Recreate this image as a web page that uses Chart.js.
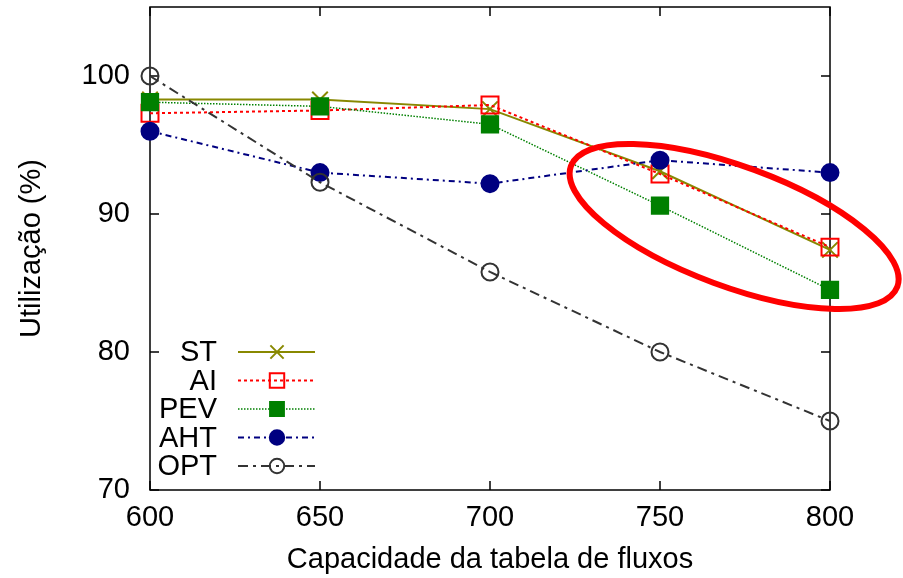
<!DOCTYPE html>
<html>
<head>
<meta charset="utf-8">
<script src="https://cdn.jsdelivr.net/npm/chart.js@4/dist/chart.umd.min.js"></script>
<style>
  body { margin: 0; background: #fff; }
</style>
</head>
<body>
<canvas id="chart" width="903" height="578"></canvas>
<script>
let capacities = [600, 650, 700, 750, 800];
let seriesNames = ["ST", "AI", "PEV", "AHT", "OPT"];
let st = [98.3, 98.3, 97.6, 93.1, 87.4];
let ai = [97.3, 97.5, 97.9, 92.9, 87.6];
let pev = [98.1, 97.8, 96.5, 90.6, 84.5];
let aht = [96.0, 93.0, 92.2, 93.9, 93.0];
let opt = [100, 92.3, 85.8, 80.0, 75.0];
let xTicks = [600, 650, 700, 750, 800];
let yTicks = [70, 80, 90, 100];

let font = "'Liberation Sans', Arial, Helvetica, sans-serif";
let fontSize = 29;

function points(values) {
    return capacities.map((c, i) => ({ x: c, y: values[i] }));
}

let styles = [
    { color: "#888800", dash: [], width: 2, point: "crossRot", radius: 11, fill: false },
    { color: "#ff0000", dash: [3, 3], width: 2, point: "rect", radius: 12, fill: false },
    { color: "#008000", dash: [1.5, 1.5], width: 1.5, point: "rect", radius: 11.5, fill: true },
    { color: "#000080", dash: [6, 4, 2, 4], width: 2, point: "circle", radius: 8.5, fill: true },
    { color: "#333333", dash: [10, 5, 3, 5], width: 2, point: "circle", radius: 8.5, fill: false }
];
let values = [st, ai, pev, aht, opt];

let datasets = seriesNames.map((name, i) => {
    let s = styles[i];
    return {
        label: name,
        data: points(values[i]),
        borderColor: s.color,
        borderWidth: s.width,
        borderDash: s.dash,
        pointStyle: s.point,
        pointRadius: s.radius,
        pointBorderWidth: 2,
        pointBorderColor: s.color,
        pointBackgroundColor: s.fill ? s.color : "rgba(0,0,0,0)",
        fill: false,
        tension: 0,
        clip: false,
        order: 5 - i
    };
});

// frame with gnuplot-style inward ticks on all four sides
let framePlugin = {
    id: "frame",
    beforeDatasetsDraw(chart) {
        let ctx = chart.ctx;
        let a = chart.chartArea;
        let xs = chart.scales.x, ys = chart.scales.y;
        ctx.save();
        ctx.strokeStyle = "#000";
        ctx.lineWidth = 1.5;
        ctx.setLineDash([]);
        ctx.strokeRect(a.left, a.top, a.right - a.left, a.bottom - a.top);
        ctx.beginPath();
        for (let v of xTicks) {
            let px = xs.getPixelForValue(v);
            ctx.moveTo(px, a.bottom); ctx.lineTo(px, a.bottom - 9);
            ctx.moveTo(px, a.top); ctx.lineTo(px, a.top + 9);
        }
        for (let v of yTicks) {
            let py = ys.getPixelForValue(v);
            ctx.moveTo(a.left, py); ctx.lineTo(a.left + 9, py);
            ctx.moveTo(a.right, py); ctx.lineTo(a.right - 9, py);
        }
        ctx.stroke();
        ctx.restore();
    }
};

// key in the lower left corner: name on the left, line sample with marker on the right
let keyPlugin = {
    id: "key",
    afterDatasetsDraw(chart) {
        let ctx = chart.ctx;
        let a = chart.chartArea;
        ctx.save();
        ctx.font = fontSize + "px " + font;
        ctx.textAlign = "right";
        ctx.textBaseline = "middle";
        chart.data.datasets.forEach((ds, i) => {
            let y = a.bottom - 138 + i * 28.5;
            ctx.fillStyle = "#000";
            ctx.fillText(ds.label, a.left + 67, y + 1);
            ctx.strokeStyle = ds.borderColor;
            ctx.lineWidth = ds.borderWidth;
            ctx.setLineDash(ds.borderDash);
            ctx.beginPath();
            ctx.moveTo(a.left + 88, y);
            ctx.lineTo(a.left + 165, y);
            ctx.stroke();
            ctx.setLineDash([]);
            ctx.fillStyle = ds.pointBackgroundColor;
            ctx.lineWidth = ds.pointBorderWidth;
            Chart.helpers.drawPoint(ctx, {
                pointStyle: ds.pointStyle,
                radius: ds.pointRadius * 0.85,
                rotation: 0,
                borderWidth: ds.pointBorderWidth
            }, a.left + 127, y);
        });
        ctx.restore();
    }
};

// red ellipse around the 750-800 region
let ellipsePlugin = {
    id: "ellipse",
    afterDraw(chart) {
        let ctx = chart.ctx;
        let cx = chart.scales.x.getPixelForValue(771.8);
        let cy = chart.scales.y.getPixelForValue(89.1);
        ctx.save();
        ctx.strokeStyle = "#ff0000";
        ctx.lineWidth = 6;
        ctx.beginPath();
        ctx.ellipse(cx, cy, 174, 60, 20.3 * Math.PI / 180, 0, Math.PI * 2);
        ctx.stroke();
        ctx.restore();
    }
};

new Chart(document.getElementById("chart"), {
    type: "line",
    data: { datasets: datasets },
    options: {
        responsive: false,
        animation: false,
        devicePixelRatio: 1,
        layout: { autoPadding: false, padding: { top: 7, right: 73, left: 0, bottom: 0 } },
        scales: {
            x: {
                type: "linear",
                min: 600,
                max: 800,
                grid: { display: false, drawTicks: false },
                border: { display: false },
                ticks: { stepSize: 50, color: "#000", padding: 11, font: { family: font, size: fontSize } },
                afterBuildTicks(scale) { scale.ticks = xTicks.map(v => ({ value: v })); },
                afterFit(scale) {
                    scale.height = 88;
                    scale.paddingLeft = 0;
                    scale.paddingRight = 0;
                },
                title: {
                    display: true,
                    text: "Capacidade da tabela de fluxos",
                    color: "#000",
                    font: { family: font, size: fontSize },
                    padding: { top: 0, bottom: 1 }
                }
            },
            y: {
                min: 70,
                max: 105,
                grid: { display: false, drawTicks: false },
                border: { display: false },
                ticks: { stepSize: 10, color: "#000", padding: 20, font: { family: font, size: fontSize } },
                afterBuildTicks(scale) { scale.ticks = yTicks.map(v => ({ value: v })); },
                afterFit(scale) {
                    scale.width = 150;
                    scale.paddingTop = 0;
                    scale.paddingBottom = 0;
                },
                title: {
                    display: true,
                    text: "Utilização (%)",
                    color: "#000",
                    font: { family: font, size: fontSize },
                    padding: { top: 15, bottom: 0 }
                }
            }
        },
        plugins: {
            legend: { display: false },
            tooltip: { enabled: false }
        }
    },
    plugins: [framePlugin, keyPlugin, ellipsePlugin]
});
</script>
</body>
</html>
